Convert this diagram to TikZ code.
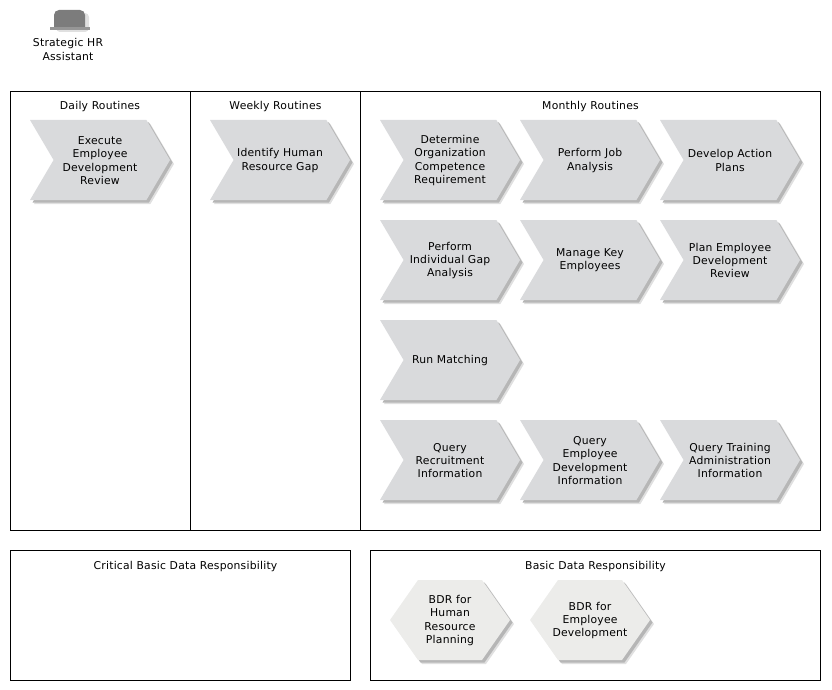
\documentclass[tikz,border=0pt]{standalone}
\usepackage{fontspec}
\setmainfont[LetterSpace=2]{DejaVu Sans}
\usetikzlibrary{shapes.symbols,shadows}
\definecolor{stepgray}{HTML}{D9DADC}
\definecolor{datagray}{HTML}{ECECEA}
\definecolor{shadegray}{HTML}{B6B6B6}
\definecolor{softgray}{HTML}{E0E0E0}
\definecolor{hatgray}{HTML}{7C7C7C}
\tikzset{
    lane/.style={draw, line width=0.8pt, rectangle, inner sep=0pt},
    title/.style={font=\fontsize{10.8}{13.3}\selectfont},
    boxtext/.style={title, align=center, yshift=-0.5pt},
    softshade/.style={
        drop shadow={shadow xshift=4pt, shadow yshift=-4pt, fill=softgray, opacity=1},
        drop shadow={shadow xshift=2.5pt, shadow yshift=-2.5pt, fill=shadegray, opacity=1}},
    proc/.style={signal, signal to=east, signal from=west, signal pointer angle=119, fill=stepgray,
        minimum width=140pt, minimum height=80pt, inner sep=0pt, softshade},
    bdr/.style={signal, signal to=east and west, signal pointer angle=110, fill=datagray,
        minimum width=120pt, minimum height=80pt, inner sep=0pt, softshade},
}
\begin{document}
\begin{tikzpicture}[x=1pt, y=-1pt]
    \useasboundingbox (0, 0) rectangle (832, 690);
    % role
    \fill[softgray, rounded corners=4pt] (56, 13) rectangle (89, 32);
    \fill[hatgray] (54, 28) [rounded corners=5pt] -- (54, 10) -- (85, 10) [sharp corners] -- (85, 28) -- cycle;
    \fill[hatgray!80!white] (50, 27) rectangle (90, 30);
    \node[title, align=center] (role) at (68, 49.5) {Strategic HR\\Assistant};

    % routines
    \node[lane, minimum width=180pt, minimum height=439pt] (daily) at (100.5, 310.5) {};
    \node[lane, minimum width=170pt, minimum height=439pt] (weekly) at (275.5, 310.5) {};
    \node[lane, minimum width=460pt, minimum height=439pt] (monthly) at (590.5, 310.5) {};
    \node[title] (dailytitle) at (100, 107) {Daily Routines};
    \node[title] (weeklytitle) at (275.5, 107) {Weekly Routines};
    \node[title] (monthlytitle) at (590.5, 107) {Monthly Routines};

    \node[proc, label={[boxtext]center:{Execute\\Employee\\Development\\Review}}] (execute) at (100, 160) {};
    \node[proc, label={[boxtext]center:{Identify Human\\Resource Gap}}] (gap) at (280, 160) {};

    \node[proc, label={[boxtext]center:{Determine\\Organization\\Competence\\Requirement}}] (determine) at (450, 160) {};
    \node[proc, label={[boxtext]center:{Perform Job\\Analysis}}] (job) at (590, 160) {};
    \node[proc, label={[boxtext]center:{Develop Action\\Plans}}] (action) at (730, 160) {};

    \node[proc, label={[boxtext]center:{Perform\\Individual Gap\\Analysis}}] (individual) at (450, 260) {};
    \node[proc, label={[boxtext]center:{Manage Key\\Employees}}] (key) at (590, 260) {};
    \node[proc, label={[boxtext]center:{Plan Employee\\Development\\Review}}] (plan) at (730, 260) {};

    \node[proc, label={[boxtext]center:{Run Matching}}] (matching) at (450, 360) {};

    \node[proc, label={[boxtext]center:{Query\\Recruitment\\Information}}] (recruit) at (450, 460) {};
    \node[proc, label={[boxtext]center:{Query\\Employee\\Development\\Information}}] (devinfo) at (590, 460) {};
    \node[proc, label={[boxtext]center:{Query Training\\Administration\\Information}}] (training) at (730, 460) {};

    % responsibilities
    \node[lane, minimum width=340pt, minimum height=130pt] (critical) at (180.5, 615.5) {};
    \node[lane, minimum width=450pt, minimum height=130pt] (basic) at (595.5, 615.5) {};
    \node[title] (criticaltitle) at (185.5, 567) {Critical Basic Data Responsibility};
    \node[title] (basictitle) at (595.5, 567) {Basic Data Responsibility};

    \node[bdr, label={[boxtext]center:{BDR for\\Human\\Resource\\Planning}}] (bdrhuman) at (450, 620) {};
    \node[bdr, label={[boxtext]center:{BDR for\\Employee\\Development}}] (bdremployee) at (590, 620) {};
\end{tikzpicture}
\end{document}
